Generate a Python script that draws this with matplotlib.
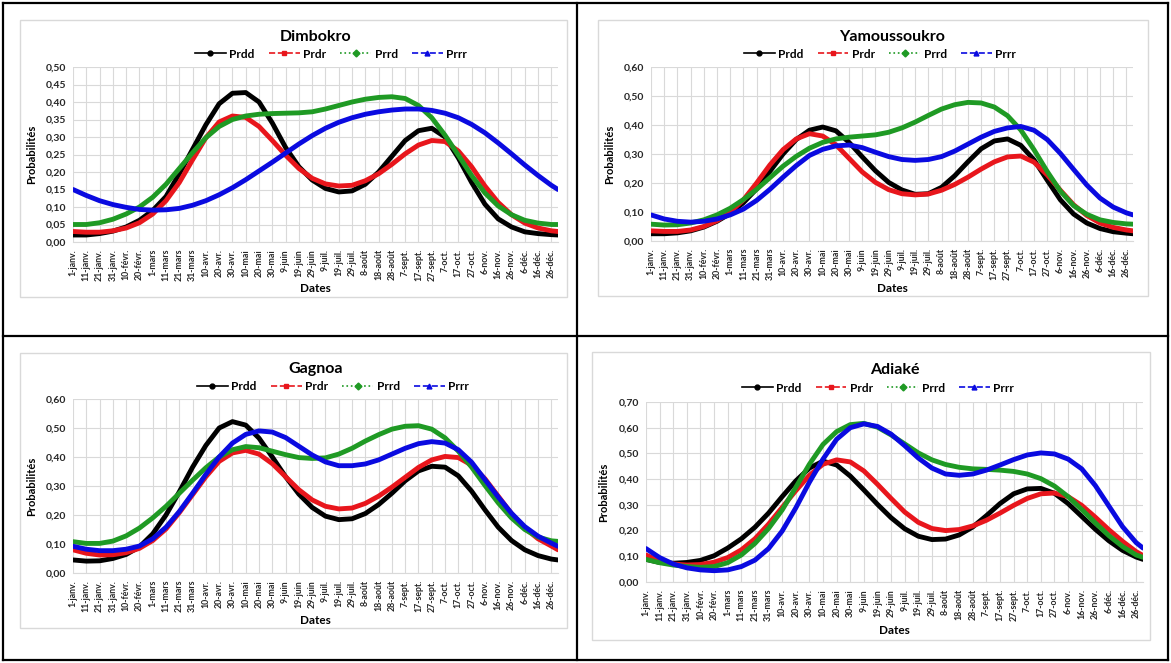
import matplotlib.pyplot as plt
from matplotlib.lines import Line2D
from matplotlib.patches import Rectangle

plt.rcParams['font.family'] = ['Lato', 'DejaVu Sans']
plt.rcParams['font.weight'] = 'bold'

W, H = 1171, 663

# day of year (leap year) for each tick, plus the last day
days = list(range(0, 361, 10)) + [365]
tick_days = list(range(0, 361, 10))
tick_labels = ['1-janv.', '11-janv.', '21-janv.', '31-janv.', '10-févr.', '20-févr.',
               '1-mars', '11-mars', '21-mars', '31-mars', '10-avr.', '20-avr.', '30-avr.',
               '10-mai', '20-mai', '30-mai', '9-juin', '19-juin', '29-juin', '9-juil.',
               '19-juil.', '29-juil.', '8-août', '18-août', '28-août', '7-sept.',
               '17-sept.', '27-sept.', '7-oct.', '17-oct.', '27-oct.', '6-nov.',
               '16-nov.', '26-nov.', '6-déc.', '16-déc.', '26-déc.']

series_names = ['Prdd', 'Prdr', 'Prrd', 'Prrr']

# Dimbokro
dim_prdd = [0.020, 0.020, 0.024, 0.031, 0.043, 0.062, 0.090, 0.130, 0.195, 0.265, 0.335, 0.395, 0.425,
            0.427, 0.400, 0.340, 0.270, 0.215, 0.177, 0.153, 0.143, 0.146, 0.165, 0.200, 0.245,
            0.290, 0.318, 0.325, 0.300, 0.240, 0.170, 0.108, 0.066, 0.043, 0.029, 0.024, 0.021, 0.020]
dim_prdr = [0.030, 0.028, 0.028, 0.032, 0.040, 0.055, 0.080, 0.118, 0.170, 0.235, 0.298, 0.343, 0.360,
            0.356, 0.330, 0.290, 0.248, 0.210, 0.182, 0.166, 0.160, 0.162, 0.175, 0.195, 0.222,
            0.252, 0.277, 0.290, 0.287, 0.260, 0.215, 0.160, 0.113, 0.078, 0.054, 0.040, 0.032, 0.030]
dim_prrd = [0.050, 0.050, 0.055, 0.065, 0.080, 0.100, 0.128, 0.165, 0.210, 0.255, 0.298, 0.330, 0.350,
            0.360, 0.365, 0.367, 0.368, 0.369, 0.372, 0.380, 0.390, 0.400, 0.408, 0.413, 0.415,
            0.410, 0.390, 0.355, 0.305, 0.248, 0.190, 0.140, 0.103, 0.078, 0.062, 0.054, 0.050, 0.050]
dim_prrr = [0.150, 0.133, 0.118, 0.107, 0.099, 0.093, 0.091, 0.092, 0.096, 0.105, 0.118, 0.135, 0.155,
            0.178, 0.203, 0.228, 0.254, 0.280, 0.304, 0.325, 0.342, 0.355, 0.365, 0.372, 0.377,
            0.380, 0.380, 0.376, 0.368, 0.355, 0.336, 0.312, 0.283, 0.252, 0.220, 0.190, 0.162, 0.150]

# Yamoussoukro
yam_prdd = [0.025, 0.025, 0.028, 0.035, 0.048, 0.068, 0.095, 0.132, 0.180, 0.240, 0.300, 0.350, 0.382,
            0.393, 0.380, 0.340, 0.290, 0.242, 0.202, 0.176, 0.161, 0.163, 0.185, 0.225, 0.273,
            0.318, 0.345, 0.352, 0.330, 0.280, 0.210, 0.142, 0.093, 0.062, 0.043, 0.032, 0.027, 0.025]
yam_prdr = [0.035, 0.033, 0.033, 0.038, 0.050, 0.070, 0.100, 0.142, 0.200, 0.262, 0.315, 0.352, 0.370,
            0.362, 0.332, 0.285, 0.238, 0.202, 0.177, 0.163, 0.159, 0.162, 0.175, 0.195, 0.220,
            0.248, 0.273, 0.290, 0.293, 0.272, 0.228, 0.175, 0.125, 0.088, 0.062, 0.047, 0.038, 0.035]
yam_prrd = [0.058, 0.055, 0.056, 0.062, 0.073, 0.090, 0.113, 0.143, 0.178, 0.218, 0.258, 0.292, 0.320,
            0.340, 0.352, 0.358, 0.362, 0.366, 0.375, 0.390, 0.410, 0.433, 0.455, 0.470, 0.478,
            0.476, 0.462, 0.432, 0.383, 0.315, 0.240, 0.172, 0.122, 0.092, 0.073, 0.064, 0.059, 0.058]
yam_prrr = [0.090, 0.076, 0.068, 0.065, 0.068, 0.076, 0.090, 0.110, 0.140, 0.178, 0.220, 0.260, 0.295,
            0.316, 0.328, 0.331, 0.322, 0.306, 0.291, 0.281, 0.278, 0.281, 0.291, 0.310, 0.334,
            0.358, 0.378, 0.390, 0.395, 0.382, 0.350, 0.302, 0.247, 0.193, 0.148, 0.117, 0.097, 0.090]

# Gagnoa
gag_prdd = [0.045, 0.041, 0.042, 0.050, 0.064, 0.090, 0.135, 0.200, 0.280, 0.365, 0.440, 0.500, 0.522,
            0.510, 0.465, 0.400, 0.332, 0.272, 0.226, 0.196, 0.184, 0.187, 0.205, 0.236, 0.275,
            0.318, 0.352, 0.368, 0.365, 0.335, 0.282, 0.218, 0.158, 0.112, 0.080, 0.060, 0.048, 0.045]
gag_prdr = [0.080, 0.068, 0.062, 0.063, 0.070, 0.085, 0.112, 0.152, 0.208, 0.270, 0.332, 0.385, 0.414,
            0.423, 0.410, 0.377, 0.332, 0.287, 0.252, 0.230, 0.221, 0.224, 0.240, 0.265, 0.296,
            0.330, 0.364, 0.390, 0.402, 0.398, 0.372, 0.325, 0.265, 0.205, 0.155, 0.118, 0.093, 0.080]
gag_prrd = [0.108, 0.102, 0.102, 0.110, 0.128, 0.155, 0.190, 0.230, 0.275, 0.320, 0.363, 0.400, 0.425,
            0.436, 0.432, 0.420, 0.408, 0.398, 0.395, 0.397, 0.410, 0.430, 0.455, 0.477, 0.496,
            0.506, 0.508, 0.496, 0.466, 0.420, 0.365, 0.302, 0.242, 0.190, 0.150, 0.124, 0.111, 0.109]
gag_prrr = [0.092, 0.082, 0.077, 0.077, 0.082, 0.093, 0.118, 0.158, 0.212, 0.275, 0.340, 0.400, 0.448,
            0.478, 0.490, 0.486, 0.467, 0.437, 0.407, 0.383, 0.370, 0.370, 0.376, 0.390, 0.410,
            0.430, 0.446, 0.453, 0.448, 0.425, 0.382, 0.322, 0.262, 0.206, 0.160, 0.127, 0.103, 0.092]

# Adiaké
adi_prdd = [0.088, 0.076, 0.073, 0.076, 0.084, 0.102, 0.132, 0.168, 0.213, 0.268, 0.332, 0.393, 0.443,
            0.470, 0.455, 0.412, 0.358, 0.302, 0.250, 0.207, 0.178, 0.165, 0.167, 0.183, 0.214,
            0.258, 0.305, 0.343, 0.362, 0.364, 0.345, 0.305, 0.255, 0.205, 0.160, 0.123, 0.097, 0.088]
adi_prdr = [0.105, 0.082, 0.070, 0.066, 0.068, 0.077, 0.095, 0.125, 0.168, 0.225, 0.290, 0.355, 0.415,
            0.458, 0.475, 0.467, 0.432, 0.380, 0.325, 0.272, 0.232, 0.208, 0.200, 0.204, 0.218,
            0.240, 0.268, 0.298, 0.325, 0.343, 0.346, 0.332, 0.298, 0.252, 0.203, 0.158, 0.118, 0.103]
adi_prrd = [0.088, 0.075, 0.066, 0.060, 0.057, 0.060, 0.075, 0.105, 0.150, 0.208, 0.280, 0.368, 0.458,
            0.535, 0.585, 0.612, 0.617, 0.602, 0.572, 0.537, 0.502, 0.475, 0.457, 0.446, 0.440,
            0.438, 0.435, 0.430, 0.420, 0.402, 0.373, 0.332, 0.282, 0.230, 0.180, 0.138, 0.105, 0.096]
adi_prrr = [0.130, 0.095, 0.070, 0.055, 0.047, 0.044, 0.047, 0.060, 0.085, 0.130, 0.198, 0.288, 0.388,
            0.478, 0.555, 0.600, 0.615, 0.605, 0.575, 0.530, 0.482, 0.443, 0.420, 0.415, 0.420,
            0.435, 0.455, 0.476, 0.494, 0.502, 0.498, 0.478, 0.440, 0.375, 0.295, 0.215, 0.153, 0.132]

colors = ['#000000', '#e8161c', '#1f9a24', '#0a0ae0']
leg_styles = [('-', 'o'), ('--', 's'), (':', 'D'), ('--', '^')]

# name, data, ymax, ystep, plot box (px), chart box (px), title y, legend (x, y), dates y, ylabel x
panels = [
    ('Dimbokro', [dim_prdd, dim_prdr, dim_prrd, dim_prrr], 0.50, 0.05,
     (73, 67, 558, 242), (20, 20, 567, 297), 37, (331, 54), 288, 32),
    ('Yamoussoukro', [yam_prdd, yam_prdr, yam_prrd, yam_prrr], 0.60, 0.10,
     (651, 67, 1133, 241), (598, 20, 1148, 296), 37, (880, 54), 288, 610),
    ('Gagnoa', [gag_prdd, gag_prdr, gag_prrd, gag_prrr], 0.60, 0.10,
     (73, 399, 558, 573), (20, 353, 567, 628), 369, (333, 387), 620, 32),
    ('Adiaké', [adi_prdd, adi_prdr, adi_prrd, adi_prrr], 0.70, 0.10,
     (646, 402, 1143, 582), (592, 352, 1150, 640), 370, (878, 388), 630, 604),
]


def fx(x):
    return x / W


def fy(y):
    return 1 - y / H


fig = plt.figure(figsize=(W / 100, H / 100), dpi=100)

# table borders
for (x0, y0, x1, y1) in [(3, 3, 1168, 3), (3, 660, 1168, 660), (3, 3, 3, 660),
                         (1168, 3, 1168, 660), (577, 3, 577, 660), (3, 336, 1168, 336)]:
    fig.add_artist(Line2D([fx(x0), fx(x1)], [fy(y0), fy(y1)], color='black', lw=1.6))

for name, data, ymax, ystep, pbox, cbox, ty, (lx, ly), dy, ylx in panels:
    bx0, by0, bx1, by1 = cbox
    fig.add_artist(Rectangle((fx(bx0), fy(by1)), fx(bx1 - bx0), (by1 - by0) / H,
                             fill=False, edgecolor='#d9d9d9', lw=1))

    x0, y0, x1, y1 = pbox
    ax = fig.add_axes([fx(x0), fy(y1), fx(x1 - x0), (y1 - y0) / H])
    for vals, c in zip(data, colors):
        ax.plot(days, vals, color=c, lw=3.5, solid_capstyle='round',
                solid_joinstyle='round', zorder=3)

    ax.set_xlim(0, 365)
    ax.set_ylim(0, ymax)
    yt = [round(i * ystep, 2) for i in range(int(round(ymax / ystep)) + 1)]
    ax.set_yticks(yt)
    ax.set_yticklabels([f'{v:.2f}'.replace('.', ',') for v in yt], fontsize=7.5, fontweight='bold')
    ax.set_xticks(tick_days)
    ax.set_xticklabels(tick_labels, rotation=90, fontsize=6.3, fontweight='bold',
                       va='top', ha='center')
    ax.tick_params(length=0, pad=5, colors='#262626')
    ax.grid(True, color='#d9d9d9', lw=0.8, zorder=0)
    for s in ['top', 'right', 'left']:
        ax.spines[s].set_visible(False)
    ax.spines['bottom'].set_color('#d9d9d9')

    cx = (x0 + x1) / 2
    fig.text(fx(cx), fy(ty), name, fontsize=11.5, fontweight='bold', ha='center', va='center')
    fig.text(fx(cx), fy(dy), 'Dates', fontsize=8.5, fontweight='bold', ha='center', va='center')
    fig.text(fx(ylx), fy((y0 + y1) / 2), 'Probabilités', fontsize=8, fontweight='bold',
             rotation=90, ha='center', va='center')

    handles = [Line2D([], [], color=c, ls=ls, marker=m, markersize=3.5, lw=1.2)
               for c, (ls, m) in zip(colors, leg_styles)]
    ax.legend(handles, series_names, loc='center', bbox_to_anchor=(fx(lx), fy(ly)),
              bbox_transform=fig.transFigure, ncol=4, frameon=False,
              handlelength=2.6, columnspacing=1.2, handletextpad=0.3,
              prop={'weight': 'bold', 'size': 8.5})

fig.savefig('out.png', dpi=100)
